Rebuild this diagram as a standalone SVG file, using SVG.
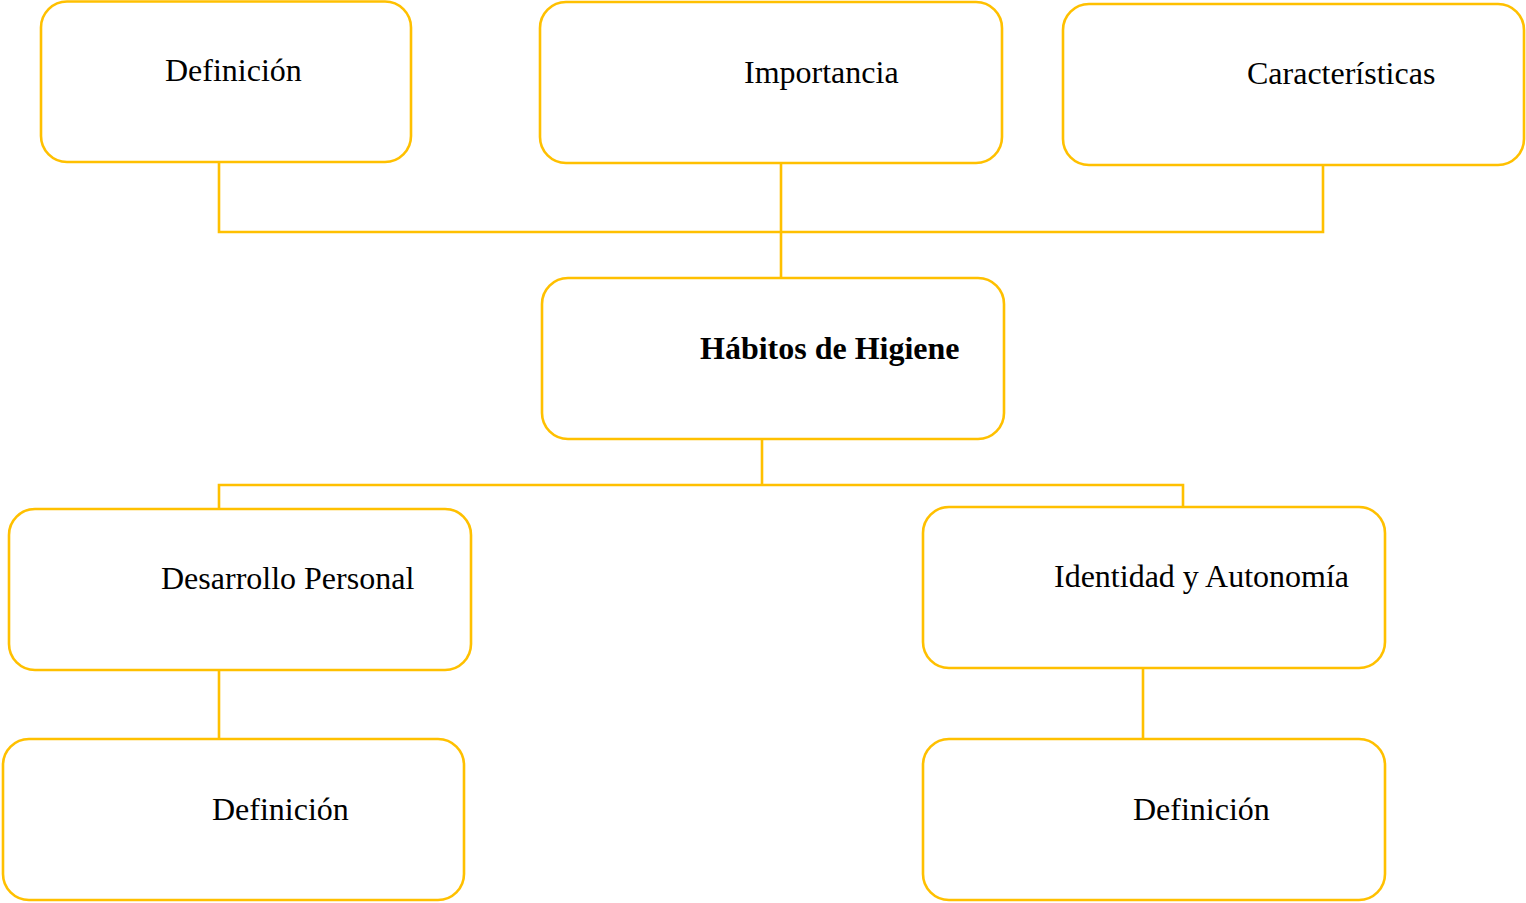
<svg xmlns="http://www.w3.org/2000/svg" width="1526" height="903" viewBox="0 0 1526 903">
<style>
.box{fill:#fff;stroke:#FFC000;stroke-width:2.6}
.con{fill:none;stroke:#FFC000;stroke-width:2.6}
.t{font-family:"Liberation Serif","Times New Roman",serif;font-size:32px;fill:#000}
.b{font-weight:bold}
</style>
<rect width="1526" height="903" fill="#fff"/>
<g id="connectors">
<polyline class="con" points="219,162 219,232 1323,232 1323,165"/>
<line class="con" x1="781" y1="163" x2="781" y2="278"/>
<line class="con" x1="762" y1="439" x2="762" y2="485"/>
<polyline class="con" points="219,509 219,485 1183,485 1183,507"/>
<line class="con" x1="219" y1="670" x2="219" y2="739"/>
<line class="con" x1="1143" y1="668" x2="1143" y2="739"/>
</g>
<g id="n-definicion-top"><rect class="box" x="41" y="1.5" width="370" height="160.5" rx="26"/><text class="t" x="165" y="81">Definición</text></g>
<g id="n-importancia"><rect class="box" x="540" y="2" width="462" height="161" rx="26"/><text class="t" x="744" y="83">Importancia</text></g>
<g id="n-caracteristicas"><rect class="box" x="1063" y="4" width="461" height="161" rx="26"/><text class="t" x="1247" y="84">Características</text></g>
<g id="n-habitos"><rect class="box" x="542" y="278" width="462" height="161" rx="26"/><text class="t b" x="700" y="359">Hábitos de Higiene</text></g>
<g id="n-desarrollo"><rect class="box" x="9" y="509" width="462" height="161" rx="26"/><text class="t" x="161" y="589">Desarrollo Personal</text></g>
<g id="n-identidad"><rect class="box" x="923" y="507" width="462" height="161" rx="26"/><text class="t" x="1054" y="587">Identidad y Autonomía</text></g>
<g id="n-definicion-left"><rect class="box" x="3" y="739" width="461" height="161" rx="26"/><text class="t" x="212" y="820">Definición</text></g>
<g id="n-definicion-right"><rect class="box" x="923" y="739" width="462" height="161" rx="26"/><text class="t" x="1133" y="820">Definición</text></g>
</svg>
